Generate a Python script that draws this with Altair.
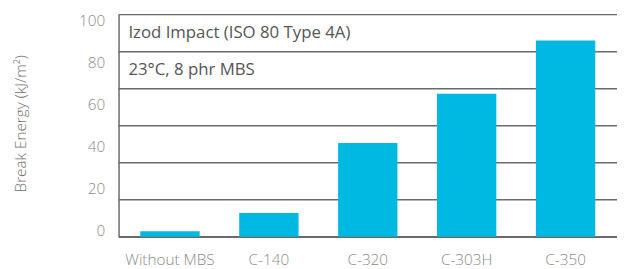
import altair as alt
import pandas as pd

# --- data ---
categories = ["Without MBS", "C-140", "C-320", "C-303H", "C-350"]
break_energy = [2.5, 10.7, 42.2, 64.4, 88.4]          # bar heights (grid scale 0-100)
tick_labels = [0, 20, 40, 60, 80, 100]                 # y-axis tick labels
label_domain = [-2.8, 102.8]                           # where the printed labels sit
row_count = 6                                          # table rows behind the bars
box_texts = ["Izod Impact (ISO 80 Type 4A)", "23°C, 8 phr MBS"]

FONT = "Open Sans"
BAR = "#00B9E2"
LINE = "#6a6a6a"

bars_df = pd.DataFrame({"cat": categories, "val": break_energy})
grid_df = pd.DataFrame({"g": [100 * i / row_count for i in range(row_count + 1)]})
text_df = pd.DataFrame({
    "t": box_texts,
    "y": [100 - (i + 0.5) * 100 / row_count for i in range(len(box_texts))],
})
ticks_df = pd.DataFrame({"v": tick_labels})

main_scale = alt.Scale(domain=[0, 100], nice=False, zero=False)

xenc = alt.X(
    "cat:N", sort=categories, title=None,
    scale=alt.Scale(paddingInner=0.4, paddingOuter=0.22),
    axis=alt.Axis(labelAngle=0, ticks=False, domain=True, domainColor=LINE,
                  domainWidth=1.5, labelPadding=16, labelFontSize=15.5,
                  labelColor="#8a8a8a", labelFont=FONT, labelFontWeight=300),
)

bars = alt.Chart(bars_df).mark_bar(color=BAR).encode(
    x=xenc,
    y=alt.Y("val:Q", scale=main_scale, axis=None),
)

rules = alt.Chart(grid_df).mark_rule(color=LINE, strokeWidth=1.5).encode(
    y=alt.Y("g:Q", scale=main_scale, axis=None),
)

texts = alt.Chart(text_df).mark_text(
    align="left", baseline="middle", font=FONT, fontSize=17, color="#555555"
).encode(
    x=alt.value(10),
    y=alt.Y("y:Q", scale=main_scale, axis=None),
    text="t:N",
)

inner = alt.layer(rules, bars, texts)

labels = alt.Chart(ticks_df).mark_point(opacity=0).encode(
    y=alt.Y("v:Q", scale=alt.Scale(domain=label_domain, nice=False, zero=False),
            axis=alt.Axis(values=tick_labels, orient="left", grid=False, ticks=False,
                          domain=True, domainColor=LINE, domainWidth=1.5,
                          labelPadding=14, labelFontSize=15.5, labelColor="#8a8a8a",
                          labelFont=FONT, labelFontWeight=300,
                          title="Break Energy (kJ/m²)", titleFont=FONT,
                          titleFontSize=15.5, titleFontWeight=300, titleColor="#707070",
                          titleX=-99, titleY=110, titleBaseline="middle",
                          titleAlign="center", titleAngle=270)),
)

chart = alt.layer(inner, labels).resolve_scale(y="independent").properties(
    width=505, height=225,
    autosize=alt.AutoSizeParams(type="none"),
    padding={"left": 112, "top": 5, "right": 0, "bottom": 31},
).configure_view(stroke=None)

chart.save("out.html", embed_options={"renderer": "svg", "actions": False})
